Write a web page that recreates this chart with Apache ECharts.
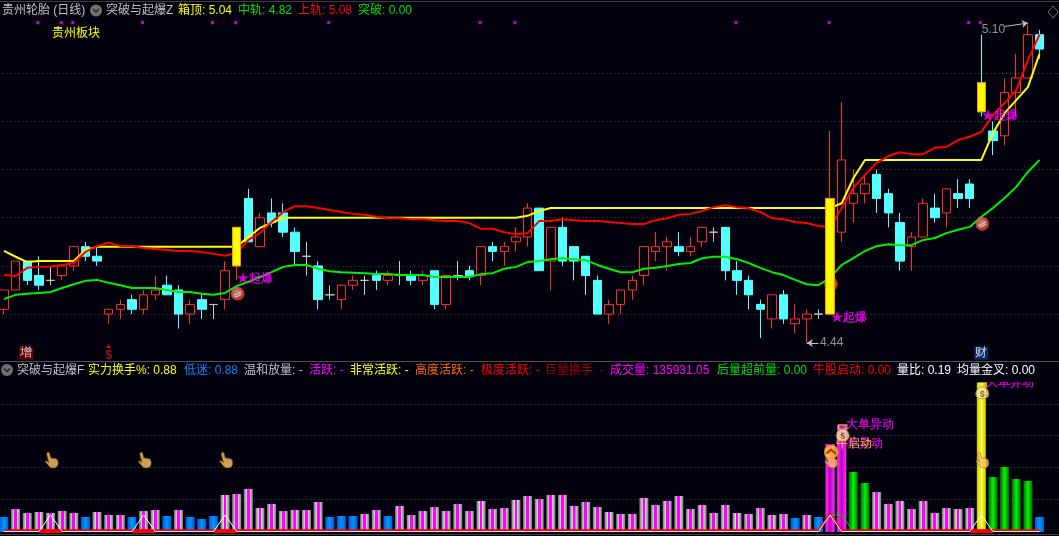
<!DOCTYPE html>
<html><head><meta charset="utf-8">
<style>html,body{margin:0;padding:0;background:#02020f;overflow:hidden}#c{width:1059px;height:536px}</style>
<script src="https://cdn.jsdelivr.net/npm/echarts@6/dist/echarts.min.js"></script>
</head><body><div id="c"></div>
<script>
// ---------- data ----------
const opens=[4.51,4.55,4.61,4.58,4.57,4.58,4.60,4.64,4.62,4.50,
4.51,4.53,4.51,4.54,4.56,4.55,4.50,4.53,4.52,4.53,
4.60,4.74,4.64,4.71,4.71,4.67,4.62,4.60,4.54,4.53,
4.56,4.57,4.58,4.57,4.58,4.58,4.57,4.59,4.52,4.58,
4.59,4.58,4.64,4.63,4.65,4.66,4.72,4.61,4.68,4.64,
4.62,4.57,4.50,4.52,4.55,4.58,4.63,4.64,4.64,4.63,
4.65,4.67,4.68,4.59,4.57,4.52,4.49,4.54,4.48,4.49,
4.50,4.50,4.67,4.73,4.75,4.79,4.75,4.69,4.64,4.66,
4.72,4.71,4.75,4.77,4.98,4.88,4.87,4.96,4.99,5.08];
const closes=[4.55,4.61,4.57,4.56,4.57,4.60,4.64,4.62,4.61,4.51,
4.52,4.51,4.54,4.55,4.54,4.50,4.52,4.51,4.52,4.59,
4.68,4.65,4.70,4.69,4.67,4.63,4.62,4.53,4.54,4.56,
4.57,4.57,4.57,4.58,4.58,4.57,4.58,4.52,4.58,4.58,
4.58,4.64,4.63,4.64,4.66,4.72,4.59,4.68,4.61,4.61,
4.58,4.50,4.52,4.55,4.57,4.64,4.64,4.65,4.63,4.64,
4.68,4.67,4.59,4.57,4.54,4.51,4.54,4.49,4.49,4.50,
4.50,4.74,4.82,4.75,4.77,4.74,4.71,4.61,4.66,4.73,
4.70,4.76,4.74,4.74,4.92,4.86,4.96,4.99,5.08,5.05];
const lows=[4.50,4.55,4.56,4.55,4.56,4.57,4.59,4.61,4.60,4.48,
4.49,4.50,4.50,4.53,4.54,4.47,4.48,4.49,4.49,4.51,
4.57,4.65,4.64,4.68,4.66,4.60,4.58,4.51,4.53,4.51,
4.55,4.54,4.55,4.56,4.56,4.56,4.56,4.51,4.51,4.57,
4.57,4.56,4.61,4.60,4.63,4.64,4.59,4.55,4.60,4.57,
4.54,4.50,4.48,4.50,4.53,4.56,4.61,4.59,4.62,4.62,
4.64,4.65,4.57,4.54,4.51,4.45,4.47,4.48,4.46,4.44,
4.49,4.50,4.65,4.69,4.73,4.71,4.68,4.59,4.59,4.66,
4.69,4.68,4.72,4.72,4.91,4.83,4.85,4.91,4.99,5.03];
const highs=[4.55,4.61,4.61,4.62,4.60,4.60,4.64,4.65,4.64,4.51,
4.53,4.54,4.55,4.58,4.58,4.56,4.53,4.54,4.52,4.61,
4.68,4.76,4.71,4.74,4.73,4.68,4.65,4.61,4.56,4.56,
4.58,4.58,4.59,4.59,4.61,4.59,4.59,4.59,4.58,4.61,
4.60,4.64,4.65,4.65,4.68,4.73,4.72,4.68,4.70,4.64,
4.62,4.58,4.53,4.55,4.58,4.64,4.67,4.66,4.67,4.66,
4.68,4.68,4.68,4.61,4.58,4.53,4.54,4.55,4.52,4.51,
4.51,4.88,4.94,4.80,4.79,4.80,4.76,4.71,4.67,4.74,
4.75,4.76,4.78,4.78,5.08,4.90,4.99,5.04,5.10,5.09];
const upperRail=[4.581,4.579,4.596,4.598,4.599,4.602,4.606,4.629,4.641,4.648,
4.641,4.641,4.637,4.635,4.633,4.631,4.631,4.629,4.625,4.621,
4.627,4.654,4.668,4.691,4.712,4.724,4.724,4.720,4.716,4.712,
4.708,4.706,4.702,4.699,4.699,4.697,4.697,4.695,4.693,4.693,
4.689,4.677,4.677,4.670,4.666,4.668,4.693,4.693,4.697,4.695,
4.693,4.693,4.691,4.689,4.687,4.687,4.695,4.699,4.706,4.708,
4.714,4.722,4.726,4.722,4.720,4.712,4.699,4.697,4.691,4.689,
4.683,4.681,4.720,4.762,4.789,4.814,4.828,4.836,4.832,4.832,
4.845,4.847,4.861,4.868,4.878,4.913,4.938,4.965,5.027,5.08];
const boxTop=[4.631,4.619,4.608,4.61,4.61,4.61,4.61,4.633,4.64,4.64,
4.64,4.64,4.64,4.64,4.64,4.64,4.64,4.64,4.64,4.64,
4.64,4.66,4.679,4.689,4.70,4.70,4.70,4.70,4.70,4.70,
4.70,4.70,4.70,4.70,4.70,4.70,4.70,4.70,4.70,4.70,
4.70,4.70,4.70,4.70,4.70,4.704,4.714,4.72,4.72,4.72,
4.72,4.72,4.72,4.72,4.72,4.72,4.72,4.72,4.72,4.72,
4.72,4.72,4.72,4.72,4.72,4.72,4.72,4.72,4.72,4.72,
4.72,4.72,4.73,4.782,4.82,4.82,4.82,4.82,4.82,4.82,
4.82,4.82,4.82,4.82,4.82,4.876,4.917,4.944,4.971,5.04];
const midRail=[4.531,4.540,4.542,4.544,4.546,4.554,4.562,4.569,4.571,4.565,
4.560,4.554,4.554,4.554,4.550,4.546,4.546,4.542,4.540,4.544,
4.558,4.567,4.577,4.587,4.598,4.602,4.602,4.594,4.589,4.587,
4.586,4.585,4.583,4.583,4.581,4.581,4.581,4.577,4.577,4.577,
4.577,4.583,4.585,4.594,4.598,4.608,4.610,4.614,4.616,4.614,
4.612,4.602,4.594,4.587,4.587,4.594,4.596,4.600,4.604,4.606,
4.616,4.619,4.619,4.614,4.606,4.596,4.587,4.581,4.571,4.562,
4.560,4.575,4.602,4.616,4.631,4.641,4.645,4.643,4.643,4.654,
4.658,4.668,4.675,4.681,4.702,4.720,4.741,4.764,4.795,4.82];
// volume in units of 10,000 shares; the last bar reads 135931.05 shares
const volumes=[13.6,20.8,17.2,18.1,17.2,19.0,17.2,13.6,18.1,15.4,
15.4,13.6,19.0,19.9,14.5,19.9,13.6,11.8,14.5,33.5,
34.4,39.0,21.7,25.4,19.0,19.9,19.9,27.2,13.6,14.5,
14.5,16.3,19.9,14.5,23.6,15.4,19.0,22.6,19.0,25.4,
19.0,28.1,20.8,21.7,29.0,32.6,29.9,33.5,33.5,23.6,
27.2,22.6,18.1,16.3,16.3,30.8,24.5,28.1,32.6,20.8,
24.5,17.2,24.5,17.2,16.3,21.7,15.4,16.3,12.7,15.4,
13.6,79.7,96.9,54.4,44.4,36.2,25.4,28.1,20.8,28.1,
17.2,21.7,20.8,21.7,135,49.8,58.9,48.0,46.2,13.59];
const lowVolumeDays=[0,7,11,14,16,17,18,28,29,30,33,68,70,89];
const surgeDays=[71,72];
const followVolumeDays=[73,74,85,86,87,88];
const peakVolumeDays=[84];
const breakoutDays=[20,71,84];
const breakoutLabels=[4.573,4.492,4.911];
const ballDays=[20,71,84];
const ballLevels=[4.542,4.562,4.687];
const topDotDays=[3,5,6,12,18,20,28,41,44,63,71,83,84];
const topDotLevel=5.105;
const signalRowLevel=4.419;
const triangleDays=[4,12,19,71,84];
const triangleHeight=15.4;
const handDays=[4,12,19,71,84];
const handLevel=65.2;
const bagDays=[72,84];
const bigOrderDays=[71,72,84];
const coinDay=71;
const priceGridLevels=[5.0,4.9,4.8,4.7,4.6,4.5];
const volumeGridLevels=[29.3,58.6,87.7,115.7];
const categories=[];for(let i=0;i<92;i++)categories.push(String(i));
const topTexts=['贵州轮胎 (日线)','突破与起爆Z','箱顶: 5.04','中轨: 4.82','上轨: 5.08','突破: 0.00'];
const lowerTexts=['突破与起爆F','实力换手%: 0.88','低迷: 0.88','温和放量: -','活跃: -','非常活跃: -','高度活跃: -','极度活跃: -','巨量换手: -','成交量: 135931.05','后量超前量: 0.00','牛股启动: 0.00','量比: 0.19','均量金叉: 0.00'];

// ---------- layout and style ----------
const BG='#02020f';
const topX=[2,106,178,238,298,358];
const topColors=['#c0c0c0','#c0c0c0','#ffff00','#00e000','#ff0000','#00e000'];
const lowerX=[17,88,184,244,309,350,415,481,545,610,717,813,897,957];
const lowerColors=['#c0c0c0','#ffff00','#0a84ff','#c0c0c0','#ff00ff','#ffff00','#ff6a00','#ff0000','#a00000','#ff00ff','#00e000','#ff0000','#ffffff','#ffffff'];
const FONT='12px "Liberation Sans","Noto Sans CJK SC",sans-serif';
const hgrad=(stops)=>new echarts.graphic.LinearGradient(0,0,1,0,stops.map(s=>({offset:s[0],color:s[1]})));
const grayStops=[[0,'#787878'],[.34,'#d8d8d8'],[.35,'#ff00ff'],[.65,'#ff00ff'],[.66,'#d8d8d8'],[1,'#787878']];
const blueStops=[[0,'#0058d8'],[.5,'#0098ff'],[1,'#0058d8']];
const greenStops=[[0,'#006a00'],[.5,'#00f800'],[1,'#006a00']];
const magStops=[[0,'#ff30ff'],[.5,'#c000c0'],[1,'#ff30ff']];
const yelStops=[[0,'#c8c800'],[.5,'#ffff40'],[1,'#c8c800']];
const svgUri=s=>'image://data:image/svg+xml;charset=utf-8,'+encodeURIComponent('<svg xmlns="http://www.w3.org/2000/svg" '+s+'</svg>');
const handIcon=svgUri('width="28" height="32" viewBox="0 0 14 16"><path d="M3 1 q1.2-.8 2 .2 L6.3 6 l4.2 .6 q2.6.6 2.6 3 v2.4 q-.5 3-3.5 3.4 h-2.6 q-2-.5-3-2.5 L1 9.4 q.6-1.3 2.2-.2 l1.2 1.2 L2.5 2.6 q0-1 .5-1.6z" fill="#ffc468" stroke="#9a5410" stroke-width=".6"/>');
const bagIcon=svgUri('width="36" height="44" viewBox="0 0 18 22"><rect x="4" y="1" width="10" height="5" fill="none" stroke="#ffe820" stroke-width="1.4"/><path d="M6 6 h6 q5 3.5 5 8.5 q0 6-8 6 q-8 0-8-6 q0-5 5-8.5z" fill="#f8e4a8" stroke="#a07820" stroke-width="1"/><text x="9" y="18" font-size="10" font-weight="bold" font-family="Liberation Sans" text-anchor="middle" fill="#7a4a10">$</text>');
const ballIcon=svgUri('width="28" height="28" viewBox="0 0 14 14"><defs><radialGradient id="g" cx=".45" cy=".4" r=".7"><stop offset="0" stop-color="#ffb0a8"/><stop offset=".6" stop-color="#f04a40"/><stop offset="1" stop-color="#b82018"/></radialGradient></defs><circle cx="7" cy="7" r="6.9" fill="url(#g)"/><path d="M2.5 8 q4 .5 8-3.5 M3.5 10 q4 0 7.5-3" stroke="#fff0e8" stroke-width="1.2" fill="none"/>');
const coinIcon=svgUri('width="30" height="30" viewBox="0 0 15 15"><circle cx="7.5" cy="7.5" r="7" fill="#ffd21e" stroke="#e8a000" stroke-width=".8"/><path d="M2.8 9.3 L7.5 5 L12.2 9.3" stroke="#c81e10" stroke-width="2" fill="none"/>');
const pts=(days,vals)=>days.map((d,i)=>[d,Array.isArray(vals)?vals[i]:vals]);
const kindColor=i=>hgrad(lowVolumeDays.includes(i)?blueStops:surgeDays.includes(i)?magStops:followVolumeDays.includes(i)?greenStops:peakVolumeDays.includes(i)?yelStops:grayStops);
const nullable=(n,fn)=>Array.from({length:n},(_,i)=>fn(i));

const labelOnly=(name,days,vals,formatter,color,xi,yi,extra)=>Object.assign({
  name,type:'scatter',xAxisIndex:xi,yAxisIndex:yi,z:9,silent:true,symbolSize:1,
  itemStyle:{color:'rgba(0,0,0,0)'},data:pts(days,vals),
  label:{show:true,position:'right',distance:0,formatter,color,font:FONT}
},extra||{});
const DOT=[1,3];

const option={
  animation:false,backgroundColor:BG,
  grid:[
    {left:-1.82,width:1070.42,top:5.74,height:356.53,outerBoundsMode:'none'},
    {left:-1.82,width:1070.42,top:382,height:150,outerBoundsMode:'none'}
  ],
  xAxis:[
    {type:'category',gridIndex:0,data:categories,boundaryGap:true,show:false},
    {type:'category',gridIndex:1,data:categories,boundaryGap:true,show:false}
  ],
  yAxis:[
    {type:'value',gridIndex:0,min:4.40,max:5.14,show:false,splitLine:{show:false}},
    {type:'value',gridIndex:1,min:0,max:135.9,show:false,splitLine:{show:false}}
  ],
  series:[
    {name:'网格',type:'line',xAxisIndex:0,yAxisIndex:0,z:1,silent:true,data:[],
     markLine:{z:1,silent:true,symbol:'none',label:{show:false},animation:false,
       lineStyle:{color:'#4e4e4e',type:DOT,width:1},data:priceGridLevels.map(v=>({yAxis:v}))}},
    {name:'网格F',type:'line',xAxisIndex:1,yAxisIndex:1,z:1,silent:true,data:[],
     markLine:{z:1,silent:true,symbol:'none',label:{show:false},animation:false,
       lineStyle:{color:'#4e4e4e',type:DOT,width:1},data:volumeGridLevels.map(v=>({yAxis:v}))}},
    {name:'K线',type:'candlestick',xAxisIndex:0,yAxisIndex:0,z:2,barWidth:9,silent:true,
     itemStyle:{color:BG,color0:'#54ffff',borderColor:'#ff2c2c',borderColor0:'#54ffff',borderColorDoji:'#c8c8c8',borderWidth:1},
     data:opens.map((o,i)=>[o,closes[i],lows[i],highs[i]])},
    {name:'箱顶',type:'line',xAxisIndex:0,yAxisIndex:0,z:3,silent:true,showSymbol:false,data:boxTop,
     lineStyle:{color:'#ffff00',width:2},itemStyle:{color:'#ffff00'}},
    {name:'上轨',type:'line',xAxisIndex:0,yAxisIndex:0,z:4,silent:true,showSymbol:false,data:upperRail,
     lineStyle:{color:'#ff0000',width:2},itemStyle:{color:'#ff0000'}},
    {name:'中轨',type:'line',xAxisIndex:0,yAxisIndex:0,z:4,silent:true,showSymbol:false,data:midRail,
     lineStyle:{color:'#00ee00',width:2},itemStyle:{color:'#00ee00'}},
    {name:'球',type:'scatter',xAxisIndex:0,yAxisIndex:0,z:5,silent:true,symbol:ballIcon,symbolSize:14,symbolOffset:[1,0],data:pts(ballDays,ballLevels)},
    {name:'起爆柱',type:'candlestick',xAxisIndex:0,yAxisIndex:0,z:6,barWidth:9,silent:true,
     itemStyle:{color:hgrad([[0,'#ff9900'],[.18,'#ffff00'],[.82,'#ffff00'],[1,'#ff9900']]),
       color0:hgrad([[0,'#ff9900'],[.18,'#ffff00'],[.82,'#ffff00'],[1,'#ff9900']]),
       borderColor:'#ff9900',borderColor0:'#ff9900',borderWidth:1},
     data:nullable(90,i=>{
       if(!breakoutDays.includes(i))return ['-','-','-','-'];
       const lo=Math.min(opens[i],closes[i]),hi=Math.max(opens[i],closes[i]);
       return [lo,hi,lo,hi];
     })},
    {name:'信号点',type:'scatter',xAxisIndex:0,yAxisIndex:0,z:5,silent:true,symbol:'rect',symbolSize:3,symbolOffset:[-1,0],
     itemStyle:{color:'#ff00ff'},data:pts(topDotDays,topDotLevel)},
    labelOnly('起爆标',breakoutDays,breakoutLabels,'★起爆','#ff00ff',0,0,{label:{show:true,position:'right',distance:0,formatter:'★起爆',color:'#ff00ff',font:'13px "Noto Sans CJK SC"',textBorderColor:'#ff00ff',textBorderWidth:0.4}}),
    labelOnly('最高',[84],[5.09],'5.10','#b4b4b4',0,0),
    labelOnly('最低',[70],[4.44],'4.44','#b4b4b4',0,0,{label:{show:true,position:'right',distance:1,formatter:'4.44',color:'#b4b4b4',font:FONT}}),
    {name:'箭头',type:'line',xAxisIndex:0,yAxisIndex:0,z:8,silent:true,data:[],
     markLine:{silent:true,symbol:['none','arrow'],symbolSize:6,label:{show:false},animation:false,precision:4,
       lineStyle:{color:'#c0c0c0',type:'solid',width:1},
       data:[[{coord:[86,5.097]},{coord:[88,5.104]}],[{coord:[70,4.44]},{coord:[69,4.44]}]]}},
    labelOnly('增',[2],[signalRowLevel],'增','#ffffff',0,0,{label:{show:true,position:'inside',offset:[-1,0],formatter:'增',color:'#ffffff',font:FONT,backgroundColor:'#800000',padding:[1,1,0,1]}}),
    labelOnly('财',[84],[signalRowLevel],'财','#ffffff',0,0,{label:{show:true,position:'inside',formatter:'财',color:'#ffffff',font:FONT,backgroundColor:'#0a3a78',padding:[1,1,0,1]}}),
    labelOnly('S',[9],[signalRowLevel-0.005],'$','#ff1010',0,0,{label:{show:true,position:'inside',formatter:'$',color:'#ff1010',font:'bold 12px "Liberation Sans"'}}),
    {name:'S箭头',type:'scatter',xAxisIndex:0,yAxisIndex:0,z:8,silent:true,symbol:'triangle',symbolSize:[5,4],itemStyle:{color:'#ff1010'},symbolOffset:[0,-7],data:pts([9],signalRowLevel)},

    {name:'成交量',type:'bar',xAxisIndex:1,yAxisIndex:1,z:2,barWidth:9,silent:true,
     data:volumes.map((v,i)=>({value:v,itemStyle:{color:kindColor(i)}}))},
    {name:'红底',type:'line',xAxisIndex:1,yAxisIndex:1,z:3,silent:true,showSymbol:false,clip:false,
     connectNulls:false,lineStyle:{color:'#ff0000',width:3.5},
     data:nullable(90,i=>triangleDays.filter(d=>d!==71).some(d=>Math.abs(i-d)<=1)?0.6:null)},
    {name:'红线',type:'line',xAxisIndex:1,yAxisIndex:1,z:3,silent:true,showSymbol:false,clip:false,
     lineStyle:{color:'#ff0000',width:2},
     data:nullable(90,i=>i===71?triangleHeight+1:1.5)},
    {name:'绿线',type:'line',xAxisIndex:1,yAxisIndex:1,z:3,silent:true,showSymbol:false,clip:false,
     connectNulls:false,lineStyle:{color:'#00d000',width:1},
     data:nullable(90,i=>i===71||i===72?triangleHeight:i===73?0.6:null)},
    {name:'白线',type:'line',xAxisIndex:1,yAxisIndex:1,z:4,silent:true,showSymbol:false,clip:false,
     lineStyle:{color:'#ffffff',width:1},
     data:nullable(90,i=>triangleDays.includes(i)?triangleHeight:0.4)},
    labelOnly('大单异动',bigOrderDays,bigOrderDays.map(d=>volumes[d]),'大单异动','#ff00ff',1,1,{z:6,label:{show:true,position:'right',distance:4,formatter:'大单异动',color:'#ff00ff',font:FONT,textBorderColor:'#ff00ff',textBorderWidth:0.3}}),
    {name:'牛启动',type:'scatter',xAxisIndex:1,yAxisIndex:1,z:7,silent:true,symbolSize:1,itemStyle:{color:'rgba(0,0,0,0)'},
     data:pts([coinDay],volumes[coinDay]),label:{show:true,position:'right',distance:5,formatter:'牛启动',color:'#ffff00',font:FONT}},
    {name:'手',type:'scatter',xAxisIndex:1,yAxisIndex:1,z:7,silent:true,symbol:handIcon,symbolSize:[15,17],symbolOffset:[1,0],data:pts(handDays,handLevel)},
    {name:'袋',type:'scatter',xAxisIndex:1,yAxisIndex:1,z:7,silent:true,symbol:bagIcon,symbolSize:[15,18],symbolOffset:[1,8],data:pts(bagDays,bagDays.map(d=>volumes[d]))},
    {name:'币',type:'scatter',xAxisIndex:1,yAxisIndex:1,z:8,silent:true,symbol:coinIcon,symbolSize:15,symbolOffset:[1,8],data:pts([coinDay],volumes[coinDay])}
  ],
  graphic:{elements:[
    {type:'rect',z:100,silent:true,shape:{x:0,y:362,width:1059,height:20},style:{fill:BG}},
    {type:'rect',z:101,silent:true,shape:{x:0,y:1,width:1059,height:1},style:{fill:'#404040'}},
    {type:'rect',z:101,silent:true,shape:{x:0,y:361,width:1059,height:1},style:{fill:'#505050'}},
    {type:'rect',z:101,silent:true,shape:{x:0,y:534,width:1059,height:1},style:{fill:'#404040'}},
    {type:'circle',z:101,silent:true,shape:{cx:96,cy:10.5,r:6},style:{fill:'#707070'}},
    {type:'polyline',z:102,silent:true,shape:{points:[[93,9],[96,12],[99,9]]},style:{stroke:'#222',lineWidth:1.5,fill:'none'}},
    {type:'circle',z:101,silent:true,shape:{cx:7,cy:370,r:6},style:{fill:'#707070'}},
    {type:'polyline',z:102,silent:true,shape:{points:[[4,368.5],[7,371.5],[10,368.5]]},style:{stroke:'#222',lineWidth:1.5,fill:'none'}},
    {type:'polygon',z:101,silent:true,shape:{points:[[1053,6],[1058,12],[1053,18],[1048,12]]},style:{stroke:'#707070',fill:'none',lineWidth:1}},
    {type:'text',z:102,silent:true,x:52,y:34,style:{text:'贵州板块',fill:'#ffff00',font:FONT,verticalAlign:'middle'}},
    ...topTexts.map((t,i)=>({type:'text',z:102,silent:true,x:topX[i],y:10.5,style:{text:t,fill:topColors[i],font:FONT,verticalAlign:'middle'}})),
    ...lowerTexts.map((t,i)=>({type:'text',z:102,silent:true,x:lowerX[i],y:370.5,style:{text:t,fill:lowerColors[i],font:FONT,verticalAlign:'middle'}}))
  ]}
};
const chart=echarts.init(document.getElementById('c'),null,{renderer:'canvas',width:1059,height:536});
chart.setOption(option);
</script></body></html>
